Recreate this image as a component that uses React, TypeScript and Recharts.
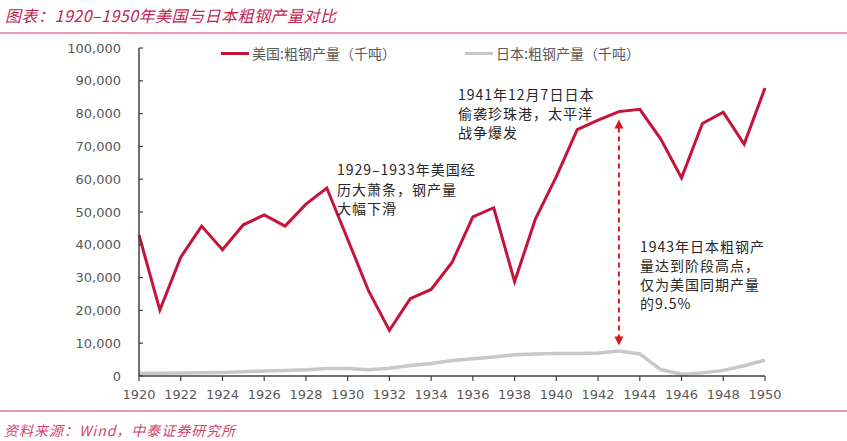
import React from 'react';
import { LineChart, Line, XAxis, YAxis, Legend, ReferenceLine } from 'recharts';

const years = [1920,1921,1922,1923,1924,1925,1926,1927,1928,1929,1930,1931,1932,1933,1934,1935,1936,1937,1938,1939,1940,1941,1942,1943,1944,1945,1946,1947,1948,1949,1950];
const usSteel = [43000,20100,36200,45700,38500,46100,49100,45700,52400,57300,41700,26000,13900,23600,26400,34600,48500,51300,28800,47900,60800,75100,78000,80600,81300,72300,60400,77000,80400,70700,87800];
const japanSteel = [845,832,909,959,1100,1300,1506,1685,1906,2294,2289,1883,2398,3198,3844,4704,5223,5801,6472,6696,6856,6844,7044,7650,6729,1963,557,952,1715,3111,4839];
const xTicks = [1920,1922,1924,1926,1928,1930,1932,1934,1936,1938,1940,1942,1944,1946,1948,1950];
const yTicks = [0,10000,20000,30000,40000,50000,60000,70000,80000,90000,100000];

const US_NAME = '美国:粗钢产量（千吨）';
const JP_NAME = '日本:粗钢产量（千吨）';
const TITLE = '图表：1920–1950年美国与日本粗钢产量对比';
const SOURCE = '资料来源：Wind，中泰证券研究所';
const NOTE_DEPRESSION = ['1929–1933年美国经', '历大萧条，钢产量', '大幅下滑'];
const NOTE_PEARL = ['1941年12月7日日本', '偷袭珍珠港，太平洋', '战争爆发'];
const NOTE_1943 = ['1943年日本粗钢产', '量达到阶段高点，', '仅为美国同期产量', '的9.5%'];
const ARROW_YEAR = 1943;
const ARROW_TOP = 78200;
const ARROW_BOTTOM = 9300;

const data = years.map((y, i) => ({ year: y, us: usSteel[i], jp: japanSteel[i] }));

const US_COLOR = '#C5133A';
const JP_COLOR = '#C8C8C8';
const AXIS_COLOR = '#404040';
const TICK_COLOR = '#595959';
const NUM_FONT = '"DejaVu Sans", Verdana, sans-serif';
const CJK_FONT = '"Noto Sans CJK SC", sans-serif';

const YTick = (props: any) => {
  const { x, y, payload } = props;
  return (
    <g>
      <line x1={x} x2={x + 4} y1={y} y2={y} stroke={AXIS_COLOR} strokeWidth={1.2} />
      <text x={x - 18} y={y} dy={4.5} textAnchor="end" fill={TICK_COLOR} fontSize={13} fontFamily={NUM_FONT}>
        {Number(payload.value).toLocaleString('en-US')}
      </text>
    </g>
  );
};

const LEGEND_LEFT: Record<string, number> = { us: 221, jp: 465 };

const renderLegend = (props: any) => {
  const payload = props.payload || [];
  return (
    <div style={{ position: 'relative', width: 847, height: 20 }}>
      {payload.map((p: any, i: number) => (
        <div key={i} style={{ position: 'absolute', left: LEGEND_LEFT[p.dataKey] ?? 221, top: 0, display: 'flex', alignItems: 'center', height: 20 }}>
          <div style={{ width: 28, height: 3, background: p.color, marginRight: 3 }} />
          <span style={{ fontFamily: CJK_FONT, fontSize: 14, color: TICK_COLOR, whiteSpace: 'nowrap' }}>{p.value}</span>
        </div>
      ))}
    </div>
  );
};

const ArrowShape = (props: any) => {
  const { x1, y1, x2, y2 } = props;
  const top = Math.min(y1, y2);
  const bot = Math.max(y1, y2);
  const c = '#D7191C';
  return (
    <g>
      <line x1={x1} x2={x2} y1={top + 8} y2={bot - 8} stroke={c} strokeWidth={2} strokeDasharray="5 4" />
      <polygon points={`${x1 - 4.5},${top + 9} ${x1 + 4.5},${top + 9} ${x1},${top}`} fill={c} />
      <polygon points={`${x1 - 4.5},${bot - 9} ${x1 + 4.5},${bot - 9} ${x1},${bot}`} fill={c} />
    </g>
  );
};

const Note = ({ lines, x, y, step }: { lines: string[]; x: number; y: number; step: number }) => (
  <text x={x} y={y} fill="#262626" fontSize={14} fontFamily={CJK_FONT} letterSpacing={1}>
    {lines.map((l, i) => (
      <tspan key={i} x={x} y={y + i * step}>{l}</tspan>
    ))}
  </text>
);

export default function App() {
  return (
    <div style={{ position: 'absolute', left: 0, top: 0, width: 847, height: 441, background: '#fff' }}>
      <LineChart width={847} height={441} data={data} margin={{ top: 48, right: 82, bottom: 35, left: 69 }}>
        <XAxis
          dataKey="year"
          type="number"
          domain={[1920, 1950]}
          ticks={xTicks}
          height={30}
          interval={0}
          axisLine={{ stroke: AXIS_COLOR, strokeWidth: 1.5 }}
          tickLine={{ stroke: AXIS_COLOR, strokeWidth: 1.2 }}
          tickSize={5}
          tickMargin={9}
          tick={{ fill: TICK_COLOR, fontSize: 13, fontFamily: NUM_FONT }}
        />
        <YAxis
          type="number"
          domain={[0, 100000]}
          ticks={yTicks}
          width={70}
          interval={0}
          axisLine={{ stroke: AXIS_COLOR, strokeWidth: 1.5 }}
          tickLine={false}
          tickSize={0}
          tickMargin={0}
          tick={<YTick />}
        />
        <Legend layout="vertical" align="center" verticalAlign="middle" content={renderLegend}
          wrapperStyle={{ top: 43, left: 0, width: 847, height: 20 }} />
        <Line dataKey="us" name={US_NAME} stroke={US_COLOR} strokeWidth={3} dot={false} isAnimationActive={false} strokeLinejoin="miter" />
        <Line dataKey="jp" name={JP_NAME} stroke={JP_COLOR} strokeWidth={3.5} dot={false} isAnimationActive={false} />
        <ReferenceLine
          segment={[{ x: ARROW_YEAR, y: ARROW_TOP }, { x: ARROW_YEAR, y: ARROW_BOTTOM }]}
          shape={<ArrowShape />}
          ifOverflow="visible"
        />
      </LineChart>
      <svg width={847} height={441} style={{ position: 'absolute', left: 0, top: 0, pointerEvents: 'none' }}>
        <text x={5} y={22} fill="#C2234F" fontSize={16} fontStyle="italic" fontFamily={CJK_FONT} letterSpacing={0.5}>{TITLE}</text>
        <line x1={0} x2={847} y1={33} y2={33} stroke="#E27A92" strokeWidth={1.5} />
        <line x1={0} x2={847} y1={411} y2={411} stroke="#E27A92" strokeWidth={1.5} />
        <text x={4} y={436} fill="#D2446C" fontSize={14} fontStyle="italic" fontFamily={CJK_FONT} letterSpacing={1}>{SOURCE}</text>
        <Note lines={NOTE_DEPRESSION} x={337} y={175} step={19.5} />
        <Note lines={NOTE_PEARL} x={458} y={100} step={19} />
        <Note lines={NOTE_1943} x={640} y={252} step={19} />
      </svg>
    </div>
  );
}
